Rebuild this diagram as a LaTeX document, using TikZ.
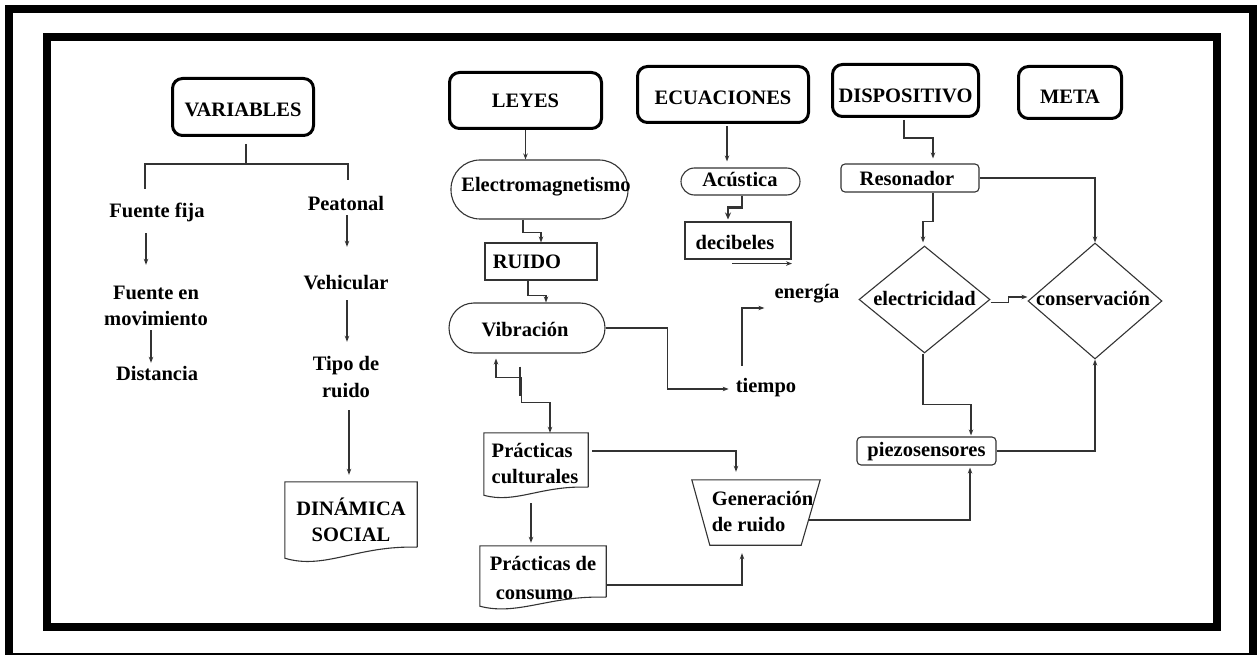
\documentclass[tikz,border=0pt]{standalone}
\usepackage{fontspec}
\setmainfont{Liberation Serif}
\usetikzlibrary{arrows.meta,calc,shapes.geometric}
\begin{document}
\begin{tikzpicture}[x=1pt,y=-1pt,
  every node/.style={font=\bfseries\fontsize{20.5}{26.5}\selectfont, text=black},
  conn/.style={draw=black!80, line width=1.2pt},
  arr/.style={conn, -{Stealth[length=6pt,width=4.5pt]}},
  hdr/.style={draw=black, line width=3pt, rounded corners=10pt, inner sep=0},
  txt/.style={inner sep=0, align=center, minimum height=22pt},
  txttwo/.style={inner sep=0, align=center, minimum height=48pt},
  outline/.style={draw=black!80, line width=1.1pt},
  shp/.style={outline, inner sep=0},
  frame/.style={draw=black, line width=8pt}
]
\useasboundingbox (0,0) rectangle (1258,655);
\clip (0,0) rectangle (1258,655);

% double frame
\draw[frame] (9,9) rectangle (1252.5,657);
\draw[frame] (46.5,37.5) rectangle (1216.5,627);

% header boxes
\node[hdr, minimum width=141pt, minimum height=57pt,
      label={[yshift=-2.5pt]center:VARIABLES}] (var) at (243,107) {};
\node[hdr, minimum width=152pt, minimum height=56pt,
      label={[yshift=-0.5pt]center:LEYES}] (leyes) at (525.5,100.5) {};
\node[hdr, minimum width=171pt, minimum height=56pt,
      label={[yshift=-3pt]center:ECUACIONES}] (ecu) at (723,94.5) {};
\node[hdr, minimum width=146pt, minimum height=52pt,
      label={[yshift=-5pt]center:DISPOSITIVO}] (disp) at (905.5,90.5) {};
\node[hdr, minimum width=103pt, minimum height=52pt,
      label={[yshift=-4pt]center:META}] (meta) at (1070,92.5) {};

% variables column
\node[txt]    (ff)   at (157,212) {Fuente fija};
\node[txttwo] (ffm)  at (156,306) {Fuente en\\movimiento};
\node[txt]    (dist) at (157,373) {Distancia};
\node[txt]    (peat) at (346,203) {Peatonal};
\node[txt]    (veh)  at (346,283) {Vehicular};
\node[txttwo] (tipo) at (346,377) {Tipo de\\ruido};

\node[inner sep=0, minimum width=132pt, minimum height=65pt,
      label={[yshift=-5.5pt, align=center]center:{DINÁMICA\\SOCIAL}}] (ds) at (351,514.5) {};
\draw[outline] (ds.south east) -- (ds.north east) -- (ds.north west) -- ($(ds.south west)+(0,11)$)
  .. controls ($(ds.south west)!0.3!(ds.south east)+(0,23)$) and ($(ds.south west)!0.55!(ds.south east)+(0,-2)$) .. (ds.south east);

% leyes column
\node[shp, minimum width=177pt, minimum height=59pt, rounded corners=29pt,
      label={[xshift=6.5pt, yshift=2.5pt]center:Electromagnetismo}] (em) at (539.5,189.5) {};
\node[shp, minimum width=112pt, minimum height=37pt,
      label={[xshift=-14pt]center:RUIDO}] (ruido) at (541,261.5) {};
\node[shp, minimum width=156pt, minimum height=50pt, rounded corners=25pt,
      label={[xshift=-2pt, yshift=-2pt]center:Vibración}] (vib) at (527,328) {};

\node[inner sep=0, minimum width=104pt, minimum height=54pt,
      label={[xshift=-1pt, yshift=-3.5pt, align=left]center:{Prácticas\\culturales}}] (pc) at (536,460) {};
\draw[outline] (pc.south east) -- (pc.north east) -- (pc.north west) -- ($(pc.south west)+(0,8)$)
  .. controls ($(pc.south west)!0.3!(pc.south east)+(0,17)$) and ($(pc.south west)!0.55!(pc.south east)+(0,-2)$) .. (pc.south east);

\node[inner sep=0, minimum width=126pt, minimum height=51pt,
      label={[yshift=-6pt, align=left]center:{Prácticas de\\[2.5pt]\hspace*{6pt}consumo}}] (pcons) at (543,571.5) {};
\draw[outline] (pcons.south east) -- (pcons.north east) -- (pcons.north west) -- ($(pcons.south west)+(0,9)$)
  .. controls ($(pcons.south west)!0.3!(pcons.south east)+(0,19)$) and ($(pcons.south west)!0.55!(pcons.south east)+(0,-2)$) .. (pcons.south east);

% inverted trapezoid, wide side on top
\node[inner sep=0, minimum width=128pt, minimum height=65pt,
      label={[xshift=6.5pt, yshift=1pt, align=left]center:{Generación\\de ruido}}] (gen) at (756,512.5) {};
\draw[outline] (gen.north west) -- (gen.north east) -- ($(gen.south east)+(-19,0)$) -- ($(gen.south west)+(18,0)$) -- cycle;

\node[txt] (tiempo)  at (766,388) {tiempo};
\node[txt] (energia) at (807,294) {energía};

% ecuaciones column
\node[shp, minimum width=119pt, minimum height=27pt, rounded corners=13.5pt,
      label={[xshift=-0.5pt, yshift=1.5pt]center:Acústica}] (ac) at (740.5,181.5) {};
\node[shp, minimum width=106pt, minimum height=37pt,
      label={[xshift=-3pt, yshift=-1.5pt]center:decibeles}] (db) at (738,240.5) {};

% dispositivo column
\node[shp, minimum width=138pt, minimum height=28pt, rounded corners=4pt,
      label={[xshift=-3pt]center:Resonador}] (reso) at (910,178) {};
\node[shp, diamond, minimum width=131pt, minimum height=107pt,
      label={[yshift=1.5pt]center:electricidad}] (elec) at (924.5,299.5) {};
\node[shp, diamond, minimum width=134pt, minimum height=116pt,
      label={[xshift=-2pt, yshift=3pt]center:conservación}] (cons) at (1095,301) {};
\node[shp, minimum width=139pt, minimum height=28pt, rounded corners=4pt,
      label={[yshift=-1pt]center:piezosensores}] (piezo) at (926.5,451) {};

% variables tree
\coordinate (vj) at ($(var.south)+(3,27)$);
\coordinate (vl) at ($(ff.north)+(-12,-12)$);
\coordinate (vr) at ($(peat.north)+(2,-12)$);
\draw[conn] ($(var.south)+(3,7)$) -- (vj);
\draw[conn] (vl) -- (vl |- vj) -- (vr |- vj) -- (vr);
\draw[arr] ($(ff.south)+(-11,10)$) -- ($(ffm.north)+(-10,-17)$);
\draw[arr] ($(ffm.south)+(-5,0)$) -- ($(dist.north)+(-6,1)$);
\draw[arr] ($(peat.south)+(1,1)$) -- ($(veh.north)+(1,-25)$);
\draw[arr] ($(veh.south)+(1,6)$) -- ($(tipo.north)+(1,-11)$);
\draw[arr] ($(tipo.south)+(3,9)$) -- ($(ds.north)+(-2,-7)$);

% leyes connectors
\draw[arr] (leyes.south) -- (leyes.south |- em.north);
\draw[arr] ($(em.south)+(-16.5,0)$) -- ++(0,13) -| (ruido.north);
\draw[arr] ($(ruido.south)+(-13,0)$) -- ++(0,15) -| ($(vib.north)+(19,0)$);
\draw[arr] (vib.east) -- ++(62,0) |- ($(tiempo.west)+(-7,1)$);
\draw[arr] ($(tiempo.north)+(-24,-11)$) |- ($(energia.west)+(-10,14)$);

\coordinate (vbTop) at ($(vib.south)+(-7,13)$);
\coordinate (vbMid) at ($(vib.south)+(-5.5,24)$);
\draw[conn] (vbTop) -- ++(0,29);
\draw[arr] (vbMid) -| ($(vib.south)+(-31,5)$);
\draw[arr] (vbMid) -- ++(0,25) -| ($(pc.north)+(14,0)$);

\draw[arr] ($(pc.east)+(4,-9)$) -| ($(gen.north)+(-20,-8)$);
\draw[arr] ($(pc.south)+(-5,16)$) -- ($(pcons.north)+(-12,-3)$);
\draw[arr] ($(pcons.east)+(0,13.5)$) -| ($(gen.south)+(-14,8)$);
\draw[arr] ($(gen.east)+(-12,7.5)$) -| ($(piezo.south)+(43.5,2)$);

% ecuaciones connectors
\draw[arr] ($(ecu.south)+(4,2)$) -- ($(ac.north)+(-13.5,-6)$);
\draw[conn, line width=2.2pt, -{Stealth[length=7pt,width=6pt]}] ($(ac.south)+(1.5,0)$) -- ++(0,12) -| ($(db.north)+(-10,-2)$);
\draw[arr] ($(db.south)+(-6,4)$) -- ($(db.south)+(54,4)$);

% dispositivo connectors
\draw[arr] ($(disp.south)+(-1.5,2)$) -- ++(0,18) -| ($(reso.north)+(23,-5)$);
\draw[arr] ($(reso.south)+(23,0)$) -- ++(0,29) -| ($(elec.north)+(-1.5,-3)$);
\draw[arr] (reso.east) -| (cons.north);
\draw[arr] ($(elec.east)+(0,3)$) -- ++(18,0) |- ($(cons.west)+(0,-4)$);
\draw[arr] ($(elec.south)+(-1.5,0)$) -- ++(0,51) -| ($(piezo.north)+(44.5,-1)$);
\draw[arr] (piezo.east) -| (cons.south);
\end{tikzpicture}
\end{document}
